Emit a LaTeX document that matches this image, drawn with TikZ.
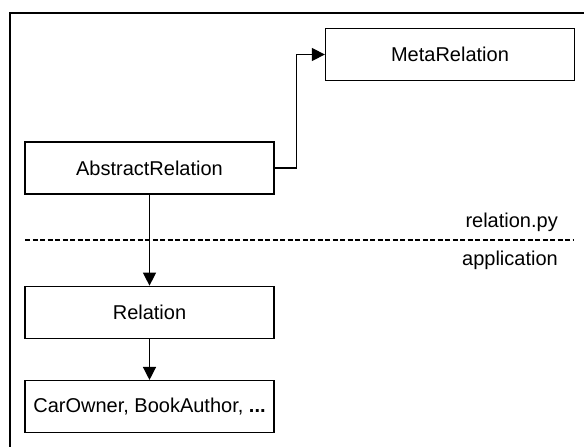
\documentclass[tikz,border=0pt]{standalone}
\usepackage{fontspec}
\setmainfont{Liberation Sans}
\usetikzlibrary{positioning,arrows.meta}

\begin{document}
\begin{tikzpicture}[x=1pt,y=-1pt,
    box/.style={rectangle,draw=black,line width=1.3pt,fill=white,
                minimum width=249pt,minimum height=52pt,inner sep=0pt,
                font=\fontsize{20}{23}\selectfont},
    arrow/.style={-{Triangle[length=13pt,width=13pt]},line width=1.3pt},
    modlabel/.style={font=\fontsize{20}{23}\selectfont,inner sep=0pt}
]
\useasboundingbox (0,0) rectangle (584,447);

% Outer frame
\coordinate (frameBL) at (10,460);
\coordinate (frameTL) at (10,13);
\coordinate (frameTR) at (600,13);
\begin{scope}
\clip (0,0) rectangle (584,447);
\draw[line width=1.3pt] (frameBL) -- (frameTL) -- (frameTR);
\end{scope}

% Module boundary
\coordinate (sepL) at (25,240);
\coordinate (sepR) at (574,240);
\draw[dash pattern=on 5pt off 2.5pt,line width=1.2pt] (sepL) -- (sepR);
\node[modlabel,anchor=east] (modlib) at (558,222) {relation.py};
\node[modlabel,anchor=east] (modapp) at (558,260) {application};

% Classes
\node[box] (meta) at (450,54.5) {MetaRelation};
\node[box] (abstract) at (149.5,168) {AbstractRelation};
\node[box,below=91pt of abstract] (relation) {Relation};
\node[box,below=41pt of relation] (concrete) {CarOwner, BookAuthor, \textbf{...}};

% Arrows
\draw[arrow] (abstract.east) -- ++(22,0) |- (meta.west);
\draw[arrow] (abstract.south) -- (relation.north);
\draw[arrow] (relation.south) -- (concrete.north);

\end{tikzpicture}
\end{document}
